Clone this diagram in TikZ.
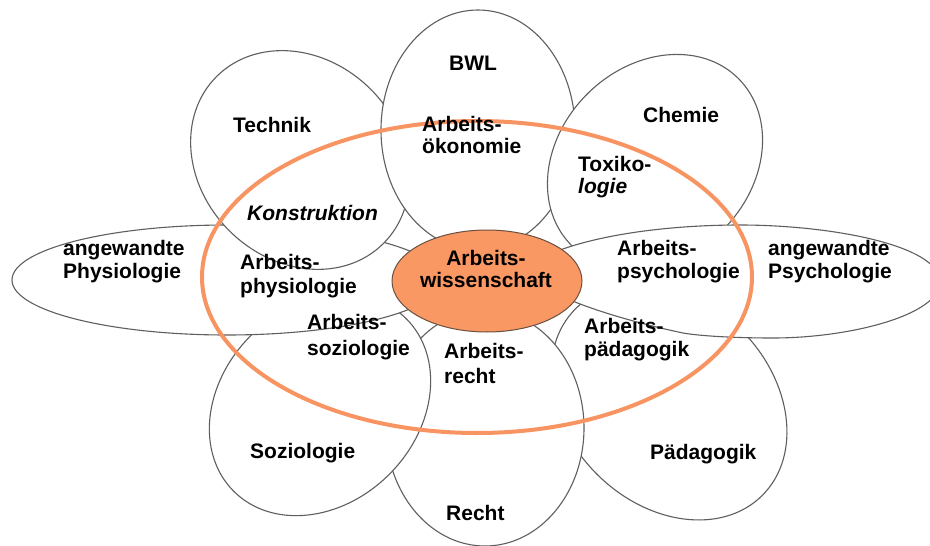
\documentclass[tikz,border=0pt]{standalone}
\usepackage{fontspec}
\setmainfont{Liberation Sans}
\definecolor{petalline}{RGB}{95,95,95}
\definecolor{coreorange}{RGB}{250,152,100}
\definecolor{ringorange}{RGB}{248,148,98}
\definecolor{coreline}{RGB}{105,80,65}
\begin{document}
\begin{tikzpicture}[x=1pt,y=-1pt,
  petal/.style={draw=petalline, fill=white, line width=1.1pt},
  lbl/.style={font=\fontsize{21}{24}\selectfont\bfseries, inner sep=0pt, align=left, anchor=base west},
  corelbl/.style={font=\fontsize{21}{22}\selectfont\bfseries, inner sep=0pt, align=center, anchor=base}]
\useasboundingbox (0,0) rectangle (930,546);
\fill[white] (0,0) rectangle (930,546);
\clip (0,0) rectangle (930,546);

% petals, lowest first
\path[petal, shift={(669,402)}, rotate=-45] (0,0) ellipse (132pt and 102pt);   % Paedagogik
\path[petal] (485,428) ellipse (99pt and 118pt);                               % Recht
\path[petal, shift={(320,405)}, rotate=45] (0,0) ellipse (122pt and 98pt);     % Soziologie
\path[petal] (227,280) ellipse (215pt and 55pt);                               % Physiologie
\path[petal, shift={(300,160)}, rotate=-45] (0,0) ellipse (118pt and 100pt);   % Technik
\path[petal] (478,130) ellipse (97pt and 120pt);                               % BWL
\path[petal, shift={(655,162)}, rotate=45] (0,0) ellipse (118pt and 96pt);     % Chemie
\path[petal] (560,250)                                                         % Psychologie
  .. controls (610,232) and (680,225) .. (740,225)
  .. controls (830,225) and (940,245) .. (940,282)
  .. controls (940,315) and (850,338) .. (773,338)
  .. controls (735,338) and (700,336) .. (683,333)
  .. controls (640,324) and (600,312) .. (575,302)
  .. controls (545,290) and (535,265) .. (560,250) -- cycle;

% core and ring
\path[draw=coreline, fill=coreorange, line width=1pt] (487,281) ellipse (95pt and 51pt);
\draw[ringorange, line width=4pt] (477,277) ellipse (275pt and 156pt);

% labels
\node[lbl] (bwl) at (449,70) {BWL};
\node[lbl] (technik) at (233,132) {Technik};
\node[lbl] (oekon) at (422,153) {Arbeits-\\[-2pt]ökonomie};
\node[lbl] (konstr) at (247,220) {\itshape Konstruktion};
\node[lbl] (chemie) at (643,122) {Chemie};
\node[lbl] (toxi) at (578,193) {Toxiko-\\[-2pt]{\itshape logie}};
\node[lbl] (angphys) at (63,278) {angewandte\\[-1pt]Physiologie};
\node[lbl] (aphys) at (240,293) {Arbeits-\\physiologie};
\node[corelbl] (aw) at (486,287) {Arbeits-\\wissenschaft};
\node[lbl] (apsych) at (617,278) {Arbeits-\\[-1pt]psychologie};
\node[lbl] (angpsych) at (768,278) {angewandte\\[-1pt]Psychologie};
\node[lbl] (asoz) at (307,355) {Arbeits-\\[2pt]soziologie};
\node[lbl] (soz) at (250,458) {Soziologie};
\node[lbl] (arecht) at (444,383) {Arbeits-\\[1pt]recht};
\node[lbl] (recht) at (446,520) {Recht};
\node[lbl] (apaed) at (584,356) {Arbeits-\\[-1pt]pädagogik};
\node[lbl] (paed) at (650,459) {Pädagogik};
\end{tikzpicture}
\end{document}
